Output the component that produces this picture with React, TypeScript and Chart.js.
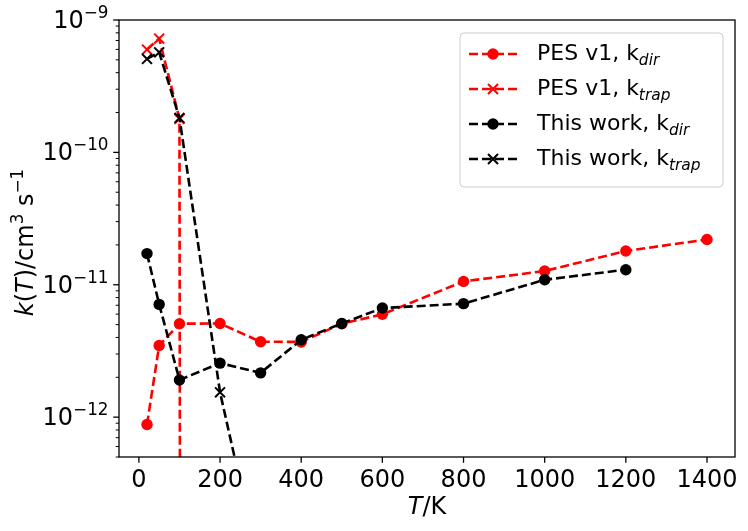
import { useEffect, useRef } from 'react';
import { Chart, registerables } from 'chart.js';

Chart.register(...registerables);

// ---------- data ----------
const tempsPesDir = [20, 50, 100, 200, 300, 400, 500, 600, 800, 1000, 1200, 1400];
const pesV1Dir = [8.8e-13, 3.48e-12, 5.08e-12, 5.1e-12, 3.71e-12, 3.7e-12, 5.08e-12, 5.98e-12, 1.06e-11, 1.27e-11, 1.8e-11, 2.2e-11];

const tempsPesTrap = [20, 50, 100, 200];
const pesV1Trap = [5.98e-10, 7.24e-10, 1.79e-10, 0];

const tempsThisDir = [20, 50, 100, 200, 300, 400, 500, 600, 800, 1000, 1200];
const thisWorkDir = [1.72e-11, 7.11e-12, 1.91e-12, 2.56e-12, 2.16e-12, 3.84e-12, 5.1e-12, 6.67e-12, 7.2e-12, 1.09e-11, 1.3e-11];

const tempsThisTrap = [20, 50, 100, 200, 300];
const thisWorkTrap = [5.08e-10, 5.7e-10, 1.82e-10, 1.54e-12, 6.6e-14];

const xTickValues = [0, 200, 400, 600, 800, 1000, 1200, 1400];
const xTickLabels = ['0', '200', '400', '600', '800', '1000', '1200', '1400'];
const yTickExponents = [-12, -11, -10, -9];
const yTickLabels = ['−12', '−11', '−10', '−9'];

const seriesNames = ['PES v1, k', 'PES v1, k', 'This work, k', 'This work, k'];
const seriesSubs = ['dir', 'trap', 'dir', 'trap'];
const seriesColors = ['#ff0000', '#ff0000', '#000000', '#000000'];
const seriesMarkers = ['circle', 'x', 'circle', 'x'];

// matplotlib clips non-positive values on a log axis to a tiny positive number
const FLOOR = 1e-300;
const toPoints = (xs: number[], ys: number[]) =>
  xs.map((x, i) => ({ x, y: ys[i] > 0 ? ys[i] : FLOOR }));

const FONT = "'DejaVu Sans', 'Liberation Sans', sans-serif";
const DASH = [9, 4];
const LINE_W = 2.6;
const CIRCLE_R = 5.7;

type Seg = { t: string; it?: boolean; sup?: boolean; sub?: boolean };

function segFont(s: Seg, size: number) {
  const sz = s.sup || s.sub ? size * 0.7 : size;
  return `${s.it ? 'italic ' : ''}${sz}px ${FONT}`;
}

function richWidth(ctx: CanvasRenderingContext2D, segs: Seg[], size: number) {
  let w = 0;
  for (const s of segs) {
    ctx.font = segFont(s, size);
    w += ctx.measureText(s.t).width;
  }
  return w;
}

function drawRich(ctx: CanvasRenderingContext2D, segs: Seg[], x: number, y: number, size: number) {
  let cx = x;
  ctx.textAlign = 'left';
  ctx.textBaseline = 'alphabetic';
  for (const s of segs) {
    ctx.font = segFont(s, size);
    const dy = s.sup ? -0.42 * size : s.sub ? 0.22 * size : 0;
    ctx.fillText(s.t, cx, y + dy);
    cx += ctx.measureText(s.t).width;
  }
  return cx - x;
}

function drawMarker(ctx: CanvasRenderingContext2D, kind: string, x: number, y: number, color: string) {
  ctx.save();
  ctx.setLineDash([]);
  if (kind === 'circle') {
    ctx.fillStyle = color;
    ctx.beginPath();
    ctx.arc(x, y, CIRCLE_R, 0, Math.PI * 2);
    ctx.fill();
  } else {
    ctx.strokeStyle = color;
    ctx.lineWidth = 2;
    const r = 5;
    ctx.beginPath();
    ctx.moveTo(x - r, y - r);
    ctx.lineTo(x + r, y + r);
    ctx.moveTo(x - r, y + r);
    ctx.lineTo(x + r, y - r);
    ctx.stroke();
  }
  ctx.restore();
}

const decorPlugin = {
  id: 'decor',
  afterDraw(chart: any) {
    const ctx: CanvasRenderingContext2D = chart.ctx;
    const { left, right, top, bottom } = chart.chartArea;
    const xs = chart.scales.x;
    const ys = chart.scales.y;
    ctx.save();
    ctx.setLineDash([]);
    ctx.strokeStyle = '#000';
    ctx.fillStyle = '#000';

    // spines
    ctx.lineWidth = 1.3;
    ctx.strokeRect(left, top, right - left, bottom - top);

    // x ticks
    ctx.font = `24px ${FONT}`;
    ctx.textAlign = 'center';
    ctx.textBaseline = 'alphabetic';
    xTickValues.forEach((v, i) => {
      const px = xs.getPixelForValue(v);
      ctx.beginPath();
      ctx.moveTo(px, bottom);
      ctx.lineTo(px, bottom + 5.8);
      ctx.stroke();
      ctx.fillText(xTickLabels[i], px, bottom + 29.5);
    });

    // y minor ticks
    ctx.lineWidth = 1;
    const yMin = ys.min;
    const yMax = ys.max;
    for (let d = -13; d <= -10; d++) {
      for (let m = 2; m <= 9; m++) {
        const v = m * Math.pow(10, d);
        if (v < yMin * 0.999 || v > yMax * 1.001) continue;
        const py = ys.getPixelForValue(v);
        ctx.beginPath();
        ctx.moveTo(left - 3.3, py);
        ctx.lineTo(left, py);
        ctx.stroke();
      }
    }

    // y major ticks + labels
    ctx.lineWidth = 1.3;
    yTickExponents.forEach((e, i) => {
      const py = ys.getPixelForValue(Math.pow(10, e));
      ctx.beginPath();
      ctx.moveTo(left - 5.8, py);
      ctx.lineTo(left, py);
      ctx.stroke();
      const segs: Seg[] = [{ t: '10' }, { t: yTickLabels[i], sup: true }];
      const w = richWidth(ctx, segs, 24);
      drawRich(ctx, segs, left - 10.5 - w, py + 8, 24);
    });

    // x axis label
    const xl: Seg[] = [{ t: 'T', it: true }, { t: '/K' }];
    const xw = richWidth(ctx, xl, 24);
    drawRich(ctx, xl, (left + right) / 2 - xw / 2, 514, 24);

    // y axis label (rotated)
    const yl: Seg[] = [
      { t: 'k', it: true },
      { t: '(' },
      { t: 'T', it: true },
      { t: ')/cm' },
      { t: '3', sup: true },
      { t: ' s' },
      { t: '−1', sup: true },
    ];
    const yw = richWidth(ctx, yl, 24);
    ctx.save();
    ctx.translate(33, (top + bottom) / 2 + 4);
    ctx.rotate(-Math.PI / 2);
    drawRich(ctx, yl, -yw / 2, 0, 24);
    ctx.restore();

    // legend
    const lx = 460, ly = 33, lw = 263, lh = 154, rr = 4;
    ctx.beginPath();
    ctx.moveTo(lx + rr, ly);
    ctx.lineTo(lx + lw - rr, ly);
    ctx.arcTo(lx + lw, ly, lx + lw, ly + rr, rr);
    ctx.lineTo(lx + lw, ly + lh - rr);
    ctx.arcTo(lx + lw, ly + lh, lx + lw - rr, ly + lh, rr);
    ctx.lineTo(lx + rr, ly + lh);
    ctx.arcTo(lx, ly + lh, lx, ly + lh - rr, rr);
    ctx.lineTo(lx, ly + rr);
    ctx.arcTo(lx, ly, lx + rr, ly, rr);
    ctx.closePath();
    ctx.fillStyle = 'rgba(255,255,255,0.8)';
    ctx.fill();
    ctx.strokeStyle = '#cccccc';
    ctx.lineWidth = 1;
    ctx.stroke();

    seriesNames.forEach((name, i) => {
      const cy = 54 + i * 35;
      const color = seriesColors[i];
      ctx.save();
      ctx.strokeStyle = color;
      ctx.lineWidth = LINE_W;
      ctx.setLineDash(DASH);
      ctx.beginPath();
      ctx.moveTo(469, cy);
      ctx.lineTo(517, cy);
      ctx.stroke();
      ctx.restore();
      drawMarker(ctx, seriesMarkers[i], 493, cy, color);
      ctx.fillStyle = '#000';
      drawRich(ctx, [{ t: name }, { t: seriesSubs[i], it: true, sub: true }], 537, cy + 6, 22);
    });

    ctx.restore();
  },
};

function dataset(label: string, xs: number[], ys: number[], color: string, marker: string, order: number) {
  const isX = marker === 'x';
  return {
    label,
    data: toPoints(xs, ys),
    borderColor: color,
    backgroundColor: color,
    borderWidth: LINE_W,
    borderDash: DASH,
    pointStyle: isX ? 'crossRot' : 'circle',
    pointRadius: isX ? 7 : CIRCLE_R,
    pointBorderWidth: isX ? 2 : 0,
    pointBorderColor: color,
    pointBackgroundColor: color,
    pointHoverRadius: isX ? 7 : CIRCLE_R,
    tension: 0,
    fill: false,
    order,
    clip: 0,
  };
}

export default function App() {
  const ref = useRef<HTMLCanvasElement | null>(null);

  useEffect(() => {
    if (!ref.current) return;
    const chart = new Chart(ref.current, {
      type: 'line',
      data: {
        datasets: [
          dataset('PES v1, k_dir', tempsPesDir, pesV1Dir, seriesColors[0], seriesMarkers[0], 4),
          dataset('PES v1, k_trap', tempsPesTrap, pesV1Trap, seriesColors[1], seriesMarkers[1], 3),
          dataset('This work, k_dir', tempsThisDir, thisWorkDir, seriesColors[2], seriesMarkers[2], 2),
          dataset('This work, k_trap', tempsThisTrap, thisWorkTrap, seriesColors[3], seriesMarkers[3], 1),
        ] as any,
      },
      options: {
        responsive: false,
        animation: false,
        events: [],
        devicePixelRatio: 1,
        layout: { padding: { left: 119, top: 20, right: 13, bottom: 74 } },
        plugins: {
          legend: { display: false },
          tooltip: { enabled: false },
        },
        scales: {
          x: { type: 'linear', min: -49, max: 1469, display: false },
          y: { type: 'logarithmic', min: 5e-13, max: 1e-9, display: false },
        },
      } as any,
      plugins: [decorPlugin],
    });
    return () => chart.destroy();
  }, []);

  return (
    <div style={{ position: 'absolute', left: 0, top: 0, width: 748, height: 531, background: '#fff' }}>
      <canvas ref={ref} width={748} height={531} style={{ display: 'block', width: 748, height: 531 }} />
    </div>
  );
}
